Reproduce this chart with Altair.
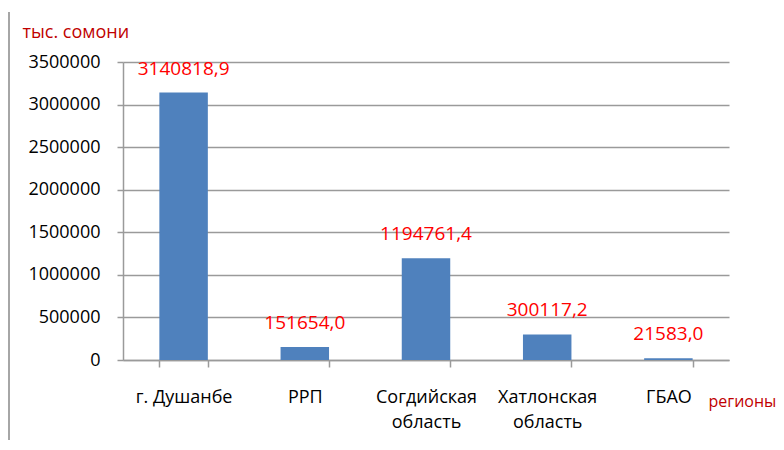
import altair as alt
import pandas as pd

# ---- data ----
regions = ["г. Душанбе", "РРП", "Согдийская\nобласть", "Хатлонская\nобласть", "ГБАО"]
values = [3140818.9, 151654.0, 1194761.4, 300117.2, 21583.0]
y_ticks = [0, 500000, 1000000, 1500000, 2000000, 2500000, 3000000, 3500000]
y_title = "тыс. сомони"
x_title = "регионы"

df = pd.DataFrame({"region": regions, "value": values})
df["label"] = [f"{v:.1f}".replace(".", ",") for v in values]

W, H = 606, 298
FONT = "Open Sans"
GRID = "#9a9a9a"

x_enc = alt.X(
    "region:N",
    sort=regions,
    scale=alt.Scale(paddingInner=0.6, paddingOuter=0.3),
    axis=alt.Axis(
        title=x_title,
        titleX=585,
        titleY=46,
        titleAlign="left",
        titleBaseline="alphabetic",
        titleColor="#C00000",
        titleFont=FONT,
        titleFontSize=16,
        titleFontWeight="normal",
        labelExpr="split(datum.label, '\\n')",
        labelAngle=0,
        labelFont=FONT,
        labelFontSize=18,
        labelColor="#000000",
        labelBaseline="top",
        labelPadding=21,
        labelLineHeight=25,
        tickBand="extent",
        ticks=True,
        tickSize=7,
        tickColor=GRID,
        tickWidth=1.5,
        domainColor=GRID,
        domainWidth=1.5,
        grid=False,
    ),
)

y_enc = alt.Y(
    "value:Q",
    scale=alt.Scale(domain=[0, 3500000], nice=False),
    axis=alt.Axis(
        values=y_ticks,
        format="d",
        title=y_title,
        titleX=-101,
        titleY=-25,
        titleAngle=0,
        titleAlign="left",
        titleBaseline="alphabetic",
        titleColor="#C00000",
        titleFont=FONT,
        titleFontSize=18,
        titleFontWeight="normal",
        labelFont=FONT,
        labelFontSize=18,
        labelColor="#000000",
        labelPadding=17,
        tickSize=6,
        tickColor=GRID,
        tickWidth=1.5,
        domainColor=GRID,
        domainWidth=1.5,
        grid=True,
        gridColor=GRID,
        gridWidth=1.5,
    ),
)

bars = alt.Chart(df).mark_bar(color="#4F81BD").encode(x=x_enc, y=y_enc)

labels = alt.Chart(df).mark_text(
    color="#FF0000", font=FONT, fontSize=19, baseline="alphabetic", dy=-18
).encode(
    x=alt.X("region:N", sort=regions),
    y=alt.Y("value:Q"),
    text="label:N",
)

frame = alt.Chart(alt.Data(values=[{}])).mark_rule(color="#A6A6A6", strokeWidth=2).encode(
    x=alt.value(-114), y=alt.value(-50), y2=alt.value(390)
)

chart = (
    alt.layer(bars, labels, frame)
    .properties(
        width=W,
        height=H,
        autosize=alt.AutoSizeParams(type="none"),
        padding={"left": 115, "top": 54, "right": 47, "bottom": 80},
    )
    .configure_view(stroke=None)
)

chart.save("out.html", embed_options={"renderer": "svg", "actions": False})
